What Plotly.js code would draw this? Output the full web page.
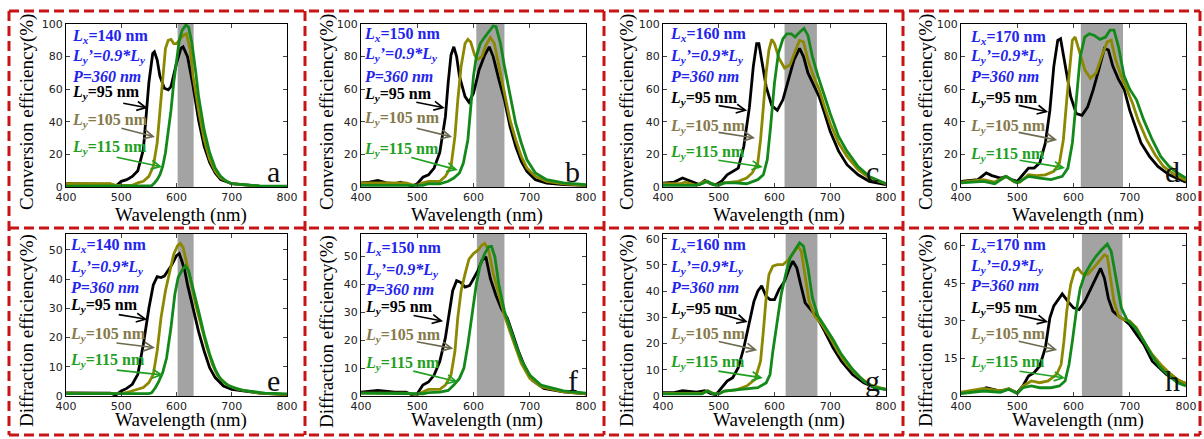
<!DOCTYPE html>
<html><head><meta charset="utf-8">
<script src="https://cdn.plot.ly/plotly-3.0.1.min.js"></script>
<style>html,body{margin:0;padding:0;background:#fff}#chart{width:1204px;height:439px}</style>
</head><body><div id="chart"></div>
<script>
// ---------- data ----------
const LX = [140,150,160,170,140,150,160,170];
const LY = [95,105,115];
const PERIOD = 360;
const letters = ['a','b','c','d','e','f','g','h'];
const yTitles = ['Conversion efficiency(%)','Diffraction efficiency(%)'];
const xTitle = 'Wavelength (nm)';
const xTicks = [400,500,600,700,800];

// panel a
const a95x=[400,420,440,460,480,490,500,510,520,530,540,550,557,560,565,570,578,585,590,600,608,612,620,630,640,650,660,670,680,700,750,800];
const a95y=[2,1.8,2,1.8,1.8,0.5,3.5,4.5,6.5,10,23,64,82,83,78,68,60.6,59.6,61.6,76,85,86,80,62,41,25,15,8.6,4.5,2,0.5,0.3];
const a105x=[400,440,480,490,500,520,530,540,550,558,565,570,575,580,585,590,595,600,605,612,618,625,630,640,650,660,670,680,700,750,800];
const a105y=[2,2,2,1,1,1,2.5,3.5,6.5,12.6,27,47,70,85,90,90.6,88,88,90,93,94,84,68,47,29,17,9.6,5.5,2,0.5,0.3];
const a115x=[400,450,500,550,555,560,565,570,575,580,585,590,595,600,605,610,617,622,628,635,640,650,660,670,680,690,700,750,800];
const a115y=[0.5,0.5,0.5,0.5,0.8,2.5,4.5,7.5,12.6,21,33,47,64,78,90,96,99.4,98,88,70,55.5,35,21,11.6,6.5,3.5,2,0.7,0.5];
// panel b
const b95x=[400,415,430,445,460,470,480,490,500,510,520,530,540,550,555,560,565,570,575,585,592,600,610,620,628,635,645,655,665,675,685,695,710,730,760,800];
const b95y=[2.5,3,4,2.5,2,3,2,0.5,2,6,7.5,11.6,21,43,64,81,86,80,68,55.5,52,57.5,72,81,86,80,66,53.5,37,25,15.7,9.6,4.5,2.4,1.5,1];
const b105x=[400,440,480,490,500,510,520,540,550,560,567,572,578,585,590,595,602,608,615,622,630,637,645,655,665,675,685,695,710,730,760,800];
const b105y=[2.5,2.5,2.5,1.5,1,2.5,3.5,3.5,6.5,12.6,31,53,74,88,90.6,89,81,78.4,80,87,91.8,88,74,57.5,41,29,18.8,11.6,6.5,3.5,2,1];
const b115x=[400,450,500,510,520,540,555,565,575,582,590,595,600,605,612,620,628,635,640,648,655,665,675,685,695,710,730,760,800];
const b115y=[1,1,1,1,2,2,3.5,5.5,8.6,14.7,29,47,68,80,88,92,96,98.8,98.4,88,74,55.5,39,27,16.7,8.6,4.5,2.5,1.5];
// panel c
const c95x=[400,420,435,450,465,475,485,495,505,515,525,535,545,555,562,568,572,578,585,595,605,615,625,635,645,652,660,670,680,690,700,715,730,750,770,800];
const c95y=[2.4,3,5.5,3.5,1.5,4,2,1.4,3.5,7.5,9.6,11.6,25,49,74,88,88,76,61.6,50,47,53.5,66,78,85,80,70,63,55.5,45,34,22,13.7,7.5,3.5,1.5];
const c105x=[400,430,440,460,475,485,495,510,520,535,550,560,570,575,580,585,590,595,600,608,618,628,638,645,652,660,670,680,690,700,715,730,750,770,800];
const c105y=[2,2,3,1,3.5,2,1,2.5,3,3.5,5.5,8.6,14.7,29,49,70,84,90.6,88,79,73,75,84,90,89,78,68,60,49,39,27,18.8,10.6,5.5,2];
const c115x=[400,460,470,480,490,500,510,530,550,570,580,587,593,600,607,615,622,630,637,645,653,660,668,678,690,700,715,730,750,770,800];
const c115y=[1,1,2,3.5,1.5,1,2.5,2.5,2,4.5,7.5,16.7,37,64,82,90.8,94,94,92,95,97.3,93,80,68,55.5,45,31,22,12.6,6.5,2];
// panel d
const d95x=[400,430,445,455,470,480,490,500,510,520,530,540,550,558,565,572,577,585,595,605,615,625,635,645,655,662,670,680,690,700,710,720,735,750,770,800];
const d95y=[3.5,4.5,8.6,7,5.5,6.5,4.5,3.5,7.5,11.6,11.6,14.7,27,47,74,90,91,74,55.5,45,44,49,59.6,72,85,84,74,66,60,47,37,27,18.8,12.6,7.5,3];
const d105x=[400,440,460,480,495,505,520,535,550,565,575,582,588,593,598,603,610,620,630,640,650,660,667,675,685,695,705,715,730,745,760,780,800];
const d105y=[3,4.5,3,6.5,3,3,7.5,7,7.5,9.6,14.7,29,53.5,74,90,92,84,72,66.7,70,80,89,90,78,68,60,51.4,41,29,19.8,12.6,7.5,4];
const d115x=[400,440,460,480,500,520,540,560,580,590,598,605,612,620,628,637,647,657,665,672,680,690,700,712,725,740,755,770,785,800];
const d115y=[2.5,3.5,2,6.5,2.5,6.5,5.5,4.5,6.5,11.6,27,53.5,80,92,94,93,90.6,92,96.3,96.3,86,68,60,53.5,41,29,18.8,12.6,8.6,5.5];
// panel e
const e95x=[400,440,480,490,500,510,520,530,540,550,558,565,572,578,585,592,600,605,610,615,620,630,640,650,660,670,685,700,750,800];
const e95y=[1.1,1,1,0.3,1.7,2.6,4,7.4,17.7,30,38,40.8,40.5,41,42.8,45,48,48.7,46,42.8,38,30,22,15.4,9.7,6.3,3.4,2.3,1,0.5];
const e105x=[400,440,480,500,510,520,530,540,550,558,565,572,580,588,595,602,607,612,618,625,635,645,655,665,675,690,710,750,800];
const e105y=[1,1,1,0.8,1.2,1.7,2.3,2.9,4.6,7.4,15.4,26.8,36,42.8,48.5,51.4,52.2,50.8,46,40,31,23.5,16.6,10.8,6.8,4,2.3,1,0.5];
const e115x=[400,450,500,550,555,562,568,575,582,590,597,603,610,616,622,630,640,650,660,670,680,695,720,760,800];
const e115y=[0.8,0.8,0.8,0.8,1.1,2.9,5,8,13,23.4,34.8,40.5,43,44.5,42.8,37,29,21,14.3,9.1,5.7,3.4,1.9,1,0.7];
// panel f
const f95x=[400,430,460,480,490,500,510,520,530,540,550,558,563,570,577,585,593,600,608,615,622,630,640,650,660,670,680,690,705,725,760,800];
const f95y=[1.4,2,1.4,1.4,0.5,0.8,3.9,5,7.5,12.3,20.8,30.4,37.7,41.3,40.7,39,39.5,42,45,48.5,49.8,42,36,31,28,22,16,11,5.5,2.7,1.5,0.8];
const f105x=[400,440,480,500,510,520,540,550,560,567,572,578,585,592,600,608,615,620,627,635,645,655,665,675,685,700,720,760,800];
const f105y=[1,1,1,0.5,1.4,2.4,2.4,3.9,7.5,16,28,37.7,43.7,49,51,52.2,54,54.6,52.2,44,36.5,29,23,17,11.7,6.3,3.3,1.5,0.8];
const f115x=[400,450,500,510,520,540,555,565,575,583,590,597,605,612,620,627,632,638,645,655,665,675,685,700,720,760,800];
const f115y=[1,1,1,0.8,1.2,1.4,2,3.9,6.3,10,18.4,29,40,47,51,53.4,53.6,49.8,40,30.4,24.3,18.4,13,7.5,3.9,1.8,1];
// panel g
const g95x=[400,420,435,460,475,485,495,505,515,525,535,545,555,563,570,577,585,592,600,608,618,627,633,640,647,655,665,675,690,705,720,740,760,780,800];
const g95y=[1.3,1.3,2,1.5,2,1,0.5,3.2,5.7,7,10.8,18.4,28.5,36,40,42,38,36.8,36.8,40.6,43.8,48.9,51.4,48.9,42.5,35.5,33,30.5,24.7,18.4,13.3,8.2,5,3.2,2.5];
const g105x=[400,470,480,490,500,510,530,550,565,575,580,585,590,597,605,615,625,633,642,648,655,662,672,685,700,715,730,750,770,800];
const g105y=[1,1,2,1,0.8,1.9,2.3,3.8,6.3,13.3,24.7,37.4,46.3,49.5,50.1,50.1,52,54.6,57.1,55.2,45,36.2,30.5,27.3,22.2,16.5,12,7.6,4.4,2.5];
const g115x=[400,470,480,490,500,510,540,570,585,592,597,605,612,620,628,637,645,652,660,668,678,690,705,720,740,760,780,800];
const g115y=[0.8,0.8,2,0.8,0.8,1.9,2.5,3.2,5,8.2,17,28.5,38.7,46.3,52.7,55.8,58.4,57.1,48.9,37.4,30.5,26.6,21.6,15.9,10.2,5.7,3.2,2.5];
// panel h
const h95x=[400,430,445,460,470,485,500,510,520,530,540,550,558,565,572,580,590,600,610,620,630,640,648,655,662,670,680,690,700,712,725,740,755,765,780,800];
const h95y=[1.3,2,3.3,2.5,2,2.7,1.3,4,8,9.3,12,19.3,31.2,36,38.5,40.8,37.8,35.2,34.5,37.8,42.5,47,51,47,39,33.9,31.9,30.5,28.5,24.6,20.6,13.9,10.6,8.6,6.6,5];
const h105x=[400,440,470,485,500,510,525,540,555,570,578,583,588,595,602,608,615,625,635,645,655,660,665,672,680,690,700,712,725,740,755,770,785,800];
const h105y=[1.5,3,2,3,1,4,6,5.3,6,8.6,12.6,21.9,33.9,44.5,50,51,49,48.5,51,53.8,56.4,55.8,48.5,37.8,31.9,30.5,29.9,27.2,21.9,16.6,12.6,9.3,6.6,5];
const h115x=[400,440,470,485,500,510,525,540,560,575,585,592,598,605,612,620,630,640,650,660,667,675,685,695,710,725,740,755,770,785,800];
const h115y=[1,2,1.5,2.7,1,3.3,4,3.3,3.3,4,6,12.6,21.9,33.9,43,48.5,52.5,55.8,58.4,60.7,57.8,47,35.2,30.5,27.2,21.9,15.9,11.3,8,5.3,4];

// shaded wavelength bands [start, end] (nm)
const bands = [[602,631],[605,655],[618,676],[613,688],[602,631],[606,655],[620,677],[615,687]];
// y-axis ranges and tick steps
const yMax = [100,100,100,100,55.4,58,61.8,64.7];
const yStep = [20,20,20,20,10,10,10,15];

const seriesX = [[a95x,a105x,a115x],[b95x,b105x,b115x],[c95x,c105x,c115x],[d95x,d105x,d115x],
                 [e95x,e105x,e115x],[f95x,f105x,f115x],[g95x,g105x,g115x],[h95x,h105x,h115x]];
const seriesY = [[a95y,a105y,a115y],[b95y,b105y,b115y],[c95y,c105y,c115y],[d95y,d105y,d115y],
                 [e95y,e105y,e115y],[f95y,f105y,f115y],[g95y,g105y,g115y],[h95y,h105y,h115y]];

// ---------- layout config ----------
const W = 1204, H = 439;
const colsPx = [[66,287],[361,586],[663,886],[961,1186]];
const rowsPx = [[24,187],[234,396]];
const lineColors = ['#000000','#8c8800','#12891a'];
const labelColors = ['#000000','#857a4a','#1fa01f'];
const arrowColors = ['#000000','#6e6a50','#1fa01f'];
const blue = '#2323ee';
const serif = 'Liberation Serif';
const textX = [0.018,0.005,0.022,0.031,0.01,0.009,0.022,0.031];
const textY = [
 [0.926,0.80,0.68,0.577,0.41,0.24],
 [0.933,0.81,0.675,0.565,0.423,0.227],
 [0.933,0.80,0.675,0.546,0.374,0.21],
 [0.92,0.80,0.675,0.54,0.37,0.20],
 [0.93,0.795,0.67,0.56,0.38,0.22],
 [0.91,0.775,0.656,0.544,0.375,0.20],
 [0.926,0.796,0.667,0.537,0.377,0.204],
 [0.932,0.80,0.68,0.543,0.377,0.204]];
// arrow heads [wavelength, value, ax, ay]
const arrows = [
 [[548,48.5,-26,-5],[561,30.7,-35,-9],[574,12.3,-47,-10]],
 [[549,48.5,-30,-6],[562,30.7,-37,-9],[572,10.4,-48,-13]],
 [[551,47,-30,-5],[565,30,-38,-6],[579,12.3,-46,-7]],
 [[555,46,-31,-7],[571,28.8,-40,-8],[585,11.7,-47,-8]],
 [[547,26.2,-30,-5],[561,16.5,-40,-5],[576,7.2,-48,-5]],
 [[546,26.8,-31,-6],[564,17,-38,-7],[572,5.1,-46,-11]],
 [[552,28.2,-30,-9],[569,17.5,-40,-9],[579,6.9,-46,-7]],
 [[555,29.6,-31,-7],[571,18.4,-40,-9],[585,7.2,-47,-7]]];
const yTitleX = [27,327,627,926];
const yTitleY = [112,331];
const xTitleY = [215,420];

const traces = [], shapes = [], annotations = [];
const layout = {width:W, height:H, margin:{l:0,r:0,t:0,b:0}, paper_bgcolor:'#fff', plot_bgcolor:'rgba(0,0,0,0)', showlegend:false};

for (let p = 0; p < 8; p++) {
  const col = p % 4, row = Math.floor(p / 4);
  const n = p + 1, xs = 'x' + n, ys = 'y' + n;
  const xk = 'xaxis' + n, yk = 'yaxis' + n;
  const [x0, x1] = colsPx[col], [y0, y1] = rowsPx[row];
  layout[xk] = {domain:[x0/W, x1/W], anchor:ys, range:[400,800], tickvals:xTicks, ticks:'inside', ticklen:4,
    showline:true, linecolor:'#000', linewidth:1, mirror:'ticks', showgrid:false, zeroline:false,
    tickfont:{family:'DejaVu Sans', size:11, color:'#222'}, fixedrange:true};
  const yt = [];
  for (let v = 0; v <= yMax[p] + 1e-9; v += yStep[p]) yt.push(v);
  layout[yk] = {domain:[1 - y1/H, 1 - y0/H], anchor:xs, range:[0, yMax[p]], tickvals:yt, ticks:'inside', ticklen:4,
    showline:true, linecolor:'#000', linewidth:1, mirror:'ticks', showgrid:false, zeroline:false,
    tickfont:{family:'DejaVu Sans', size:11, color:'#222'}, fixedrange:true};

  shapes.push({type:'rect', xref:xs, yref:ys + ' domain', x0:bands[p][0], x1:bands[p][1], y0:0, y1:1,
    fillcolor:'#a3a3a3', line:{width:0}, layer:'below'});

  for (let s = 0; s < 3; s++) {
    traces.push({type:'scatter', mode:'lines', x:seriesX[p][s], y:seriesY[p][s], xaxis:xs, yaxis:ys,
      line:{color:lineColors[s], width:2.8}, hoverinfo:'skip'});
  }

  const txt = [
    [`<b><i>L<sub>x</sub></i>=${LX[p]} nm</b>`, blue],
    [`<b><i>L<sub>y</sub>’=0.9*L<sub>y</sub></i></b>`, blue],
    [`<b><i>P=${PERIOD} nm</i></b>`, blue],
    [`<b><i>L<sub>y</sub></i>=${LY[0]} nm</b>`, labelColors[0]],
    [`<b><i>L<sub>y</sub></i>=${LY[1]} nm</b>`, labelColors[1]],
    [`<b><i>L<sub>y</sub></i>=${LY[2]} nm</b>`, labelColors[2]]];
  txt.forEach((t, k) => annotations.push({xref:xs + ' domain', yref:ys + ' domain', x:textX[p], y:textY[p][k],
    xanchor:'left', yanchor:'middle', showarrow:false, text:t[0], font:{family:serif, size:16, color:t[1]}}));

  arrows[p].forEach((a, k) => annotations.push({xref:xs, yref:ys, x:a[0], y:a[1], ax:a[2], ay:a[3], text:'',
    showarrow:true, arrowhead:5, arrowsize:1.1, arrowwidth:1.6, arrowcolor:arrowColors[k], standoff:0, startstandoff:0}));

  annotations.push({xref:xs + ' domain', yref:ys + ' domain', x:0.94, y:0.095, xanchor:'center', yanchor:'middle',
    showarrow:false, text:letters[p], font:{family:serif, size:30, color:'#111'}});

  annotations.push({xref:'paper', yref:'paper', x:yTitleX[col]/W, y:1 - yTitleY[row]/H, xanchor:'center', yanchor:'middle',
    textangle:-90, showarrow:false, text:yTitles[row], font:{family:serif, size:19, color:'#000'}});
  annotations.push({xref:'paper', yref:'paper', x:((x0 + x1)/2 + 4)/W, y:1 - xTitleY[row]/H, xanchor:'center', yanchor:'middle',
    showarrow:false, text:xTitle, font:{family:serif, size:19, color:'#000'}});
}

// dashed red frame
const red = {color:'#c81414', width:3, dash:'10px,5px'};
[11,228,435].forEach(y => shapes.push({type:'line', xref:'paper', yref:'paper', x0:9/W, x1:1200/W, y0:1-y/H, y1:1-y/H, line:red}));
[9,305,604,903,1200].forEach(x => shapes.push({type:'line', xref:'paper', yref:'paper', x0:x/W, x1:x/W, y0:1-11/H, y1:1-435/H, line:red}));

layout.shapes = shapes;
layout.annotations = annotations;
Plotly.newPlot('chart', traces, layout, {staticPlot:true, displayModeBar:false});
</script></body></html>
